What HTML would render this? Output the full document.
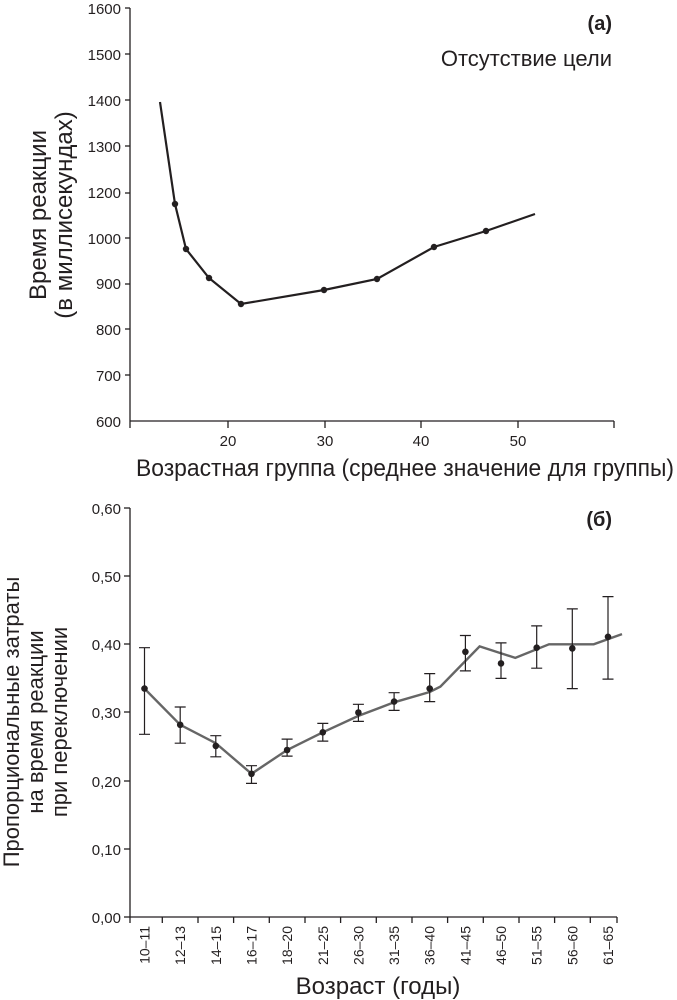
<!DOCTYPE html>
<html><head><meta charset="utf-8"><style>
html,body{margin:0;padding:0;background:#fff;}
svg{display:block;}
text{font-family:"Liberation Sans Narrow","Liberation Sans","DejaVu Sans",sans-serif;fill:#231f20;}
</style></head><body>
<svg width="677" height="1000" viewBox="0 0 677 1000" xmlns="http://www.w3.org/2000/svg">
<!-- TOP CHART -->
<g stroke="#231f20" stroke-width="1.3" fill="none">
<line x1="130" y1="8" x2="130" y2="421"/>
<line x1="130" y1="421" x2="614" y2="421"/>
<line x1="125" y1="8" x2="130" y2="8"/><line x1="125" y1="54" x2="130" y2="54"/>
<line x1="125" y1="100" x2="130" y2="100"/><line x1="125" y1="146" x2="130" y2="146"/>
<line x1="125" y1="193" x2="130" y2="193"/><line x1="125" y1="238" x2="130" y2="238"/>
<line x1="125" y1="284" x2="130" y2="284"/><line x1="125" y1="329" x2="130" y2="329"/>
<line x1="125" y1="375" x2="130" y2="375"/>
<line x1="130" y1="421" x2="130" y2="428"/><line x1="228" y1="421" x2="228" y2="428"/>
<line x1="325" y1="421" x2="325" y2="428"/><line x1="421" y1="421" x2="421" y2="428"/>
<line x1="518" y1="421" x2="518" y2="428"/><line x1="614" y1="421" x2="614" y2="428"/>
<polyline stroke-width="2.2" points="160,102 175,204 186,249 209,278 241,304 324,290 377,279 434,247 486,231 535,214"/>
</g>
<g fill="#231f20">
<circle cx="175" cy="204" r="3.2"/><circle cx="186" cy="249" r="3.2"/><circle cx="209" cy="278" r="3.2"/>
<circle cx="241" cy="304" r="3.2"/><circle cx="324" cy="290" r="3.2"/><circle cx="377" cy="279" r="3.2"/>
<circle cx="434" cy="247" r="3.2"/><circle cx="486" cy="231" r="3.2"/>
</g>
<g font-size="15" text-anchor="end">
<text x="121" y="14">1600</text><text x="121" y="60">1500</text><text x="121" y="106">1400</text>
<text x="121" y="152">1300</text><text x="121" y="198">1200</text><text x="121" y="244">1000</text>
<text x="121" y="289">900</text><text x="121" y="335">800</text><text x="121" y="381">700</text>
<text x="121" y="427">600</text>
</g>
<g font-size="15" text-anchor="middle">
<text x="228" y="446">20</text><text x="325" y="446">30</text><text x="421" y="446">40</text><text x="518" y="446">50</text>
</g>
<text x="612" y="30" font-size="20" font-weight="bold" text-anchor="end">(a)</text>
<text x="612" y="66" font-size="22" text-anchor="end">Отсутствие цели</text>
<text x="136" y="476" font-size="24" textLength="538" lengthAdjust="spacingAndGlyphs">Возрастная группа (среднее значение для группы)</text>
<g font-size="24" text-anchor="middle">
<text transform="translate(46,215) rotate(-90)">Время реакции</text>
<text transform="translate(72,215) rotate(-90)">(в миллисекундах)</text>
</g>

<!-- BOTTOM CHART -->
<g stroke="#231f20" stroke-width="1.3" fill="none">
<line x1="130" y1="508" x2="130" y2="917"/>
<line x1="130" y1="917" x2="617" y2="917"/>
<line x1="124" y1="508" x2="130" y2="508"/><line x1="124" y1="576" x2="130" y2="576"/>
<line x1="124" y1="644" x2="130" y2="644"/><line x1="124" y1="712" x2="130" y2="712"/>
<line x1="124" y1="781" x2="130" y2="781"/><line x1="124" y1="849" x2="130" y2="849"/>
<line x1="124" y1="917" x2="130" y2="917"/>
<line x1="130" y1="917" x2="130" y2="923"/><line x1="162.3" y1="917" x2="162.3" y2="923"/>
<line x1="198" y1="917" x2="198" y2="923"/><line x1="233.6" y1="917" x2="233.6" y2="923"/>
<line x1="269.3" y1="917" x2="269.3" y2="923"/><line x1="305" y1="917" x2="305" y2="923"/>
<line x1="340.6" y1="917" x2="340.6" y2="923"/><line x1="376.3" y1="917" x2="376.3" y2="923"/>
<line x1="412" y1="917" x2="412" y2="923"/><line x1="447.6" y1="917" x2="447.6" y2="923"/>
<line x1="483.3" y1="917" x2="483.3" y2="923"/><line x1="519" y1="917" x2="519" y2="923"/>
<line x1="554.6" y1="917" x2="554.6" y2="923"/><line x1="590.3" y1="917" x2="590.3" y2="923"/>
<line x1="617" y1="917" x2="617" y2="923"/>
</g>
<polyline fill="none" stroke="#666" stroke-width="2.4" points="144.5,688.6 180.2,724.8 215.8,743.2 251.5,773.8 287.1,750 322.8,732.3 358.4,715.9 394.1,702.3 429.7,692 440.4,686.6 479.6,646.4 515.3,657.9 549,644.3 593.7,644.3 622,634.1"/>
<g stroke="#231f20" stroke-width="1.2" fill="none">
<path d="M144.5,647.7V734.3M139,647.7h11M139,734.3h11"/>
<path d="M180.2,707V743.2M174.7,707h11M174.7,743.2h11"/>
<path d="M215.8,735.7V756.8M210.3,735.7h11M210.3,756.8h11"/>
<path d="M251.5,765.7V783.4M246,765.7h11M246,783.4h11"/>
<path d="M287.1,739.1V756.1M281.6,739.1h11M281.6,756.1h11"/>
<path d="M322.8,723.4V741.1M317.3,723.4h11M317.3,741.1h11"/>
<path d="M358.4,704.3V721.4M352.9,704.3h11M352.9,721.4h11"/>
<path d="M394.1,692.7V710.4M388.6,692.7h11M388.6,710.4h11"/>
<path d="M429.7,673.6V701.6M424.2,673.6h11M424.2,701.6h11"/>
<path d="M465.4,635.5V670.9M459.9,635.5h11M459.9,670.9h11"/>
<path d="M501,642.9V678.4M495.5,642.9h11M495.5,678.4h11"/>
<path d="M536.7,625.9V668.2M531.2,625.9h11M531.2,668.2h11"/>
<path d="M572.3,608.9V688.6M566.8,608.9h11M566.8,688.6h11"/>
<path d="M608,596.6V679.1M602.5,596.6h11M602.5,679.1h11"/>
</g>
<g fill="#231f20">
<circle cx="144.5" cy="688.6" r="3.3"/><circle cx="180.2" cy="724.8" r="3.3"/><circle cx="215.8" cy="745.9" r="3.3"/>
<circle cx="251.5" cy="773.8" r="3.3"/><circle cx="287.1" cy="750" r="3.3"/><circle cx="322.8" cy="732.3" r="3.3"/>
<circle cx="358.4" cy="712.5" r="3.3"/><circle cx="394.1" cy="701.6" r="3.3"/><circle cx="429.7" cy="688.6" r="3.3"/>
<circle cx="465.4" cy="651.8" r="3.3"/><circle cx="501" cy="663.4" r="3.3"/><circle cx="536.7" cy="647.7" r="3.3"/>
<circle cx="572.3" cy="648.4" r="3.3"/><circle cx="608" cy="636.8" r="3.3"/>
</g>
<g font-size="15" text-anchor="end">
<text x="121" y="514">0,60</text><text x="121" y="582">0,50</text><text x="121" y="650">0,40</text>
<text x="121" y="718">0,30</text><text x="121" y="787">0,20</text><text x="121" y="855">0,10</text>
<text x="121" y="923">0,00</text>
</g>
<g font-size="14" text-anchor="end">
<text transform="translate(149.5,926) rotate(-90)">10–11</text>
<text transform="translate(185.2,926) rotate(-90)">12–13</text>
<text transform="translate(220.8,926) rotate(-90)">14–15</text>
<text transform="translate(256.5,926) rotate(-90)">16–17</text>
<text transform="translate(292.1,926) rotate(-90)">18–20</text>
<text transform="translate(327.8,926) rotate(-90)">21–25</text>
<text transform="translate(363.4,926) rotate(-90)">26–30</text>
<text transform="translate(399.1,926) rotate(-90)">31–35</text>
<text transform="translate(434.7,926) rotate(-90)">36–40</text>
<text transform="translate(470.4,926) rotate(-90)">41–45</text>
<text transform="translate(506,926) rotate(-90)">46–50</text>
<text transform="translate(541.7,926) rotate(-90)">51–55</text>
<text transform="translate(577.3,926) rotate(-90)">56–60</text>
<text transform="translate(613,926) rotate(-90)">61–65</text>
</g>
<text x="612" y="526" font-size="20" font-weight="bold" text-anchor="end">(б)</text>
<text x="378" y="994" font-size="24" text-anchor="middle">Возраст (годы)</text>
<g font-size="22" text-anchor="middle">
<text transform="translate(19,722) rotate(-90)">Пропорциональные затраты</text>
<text transform="translate(43,722) rotate(-90)">на время реакции</text>
<text transform="translate(67,722) rotate(-90)">при переключении</text>
</g>
</svg>
</body></html>
